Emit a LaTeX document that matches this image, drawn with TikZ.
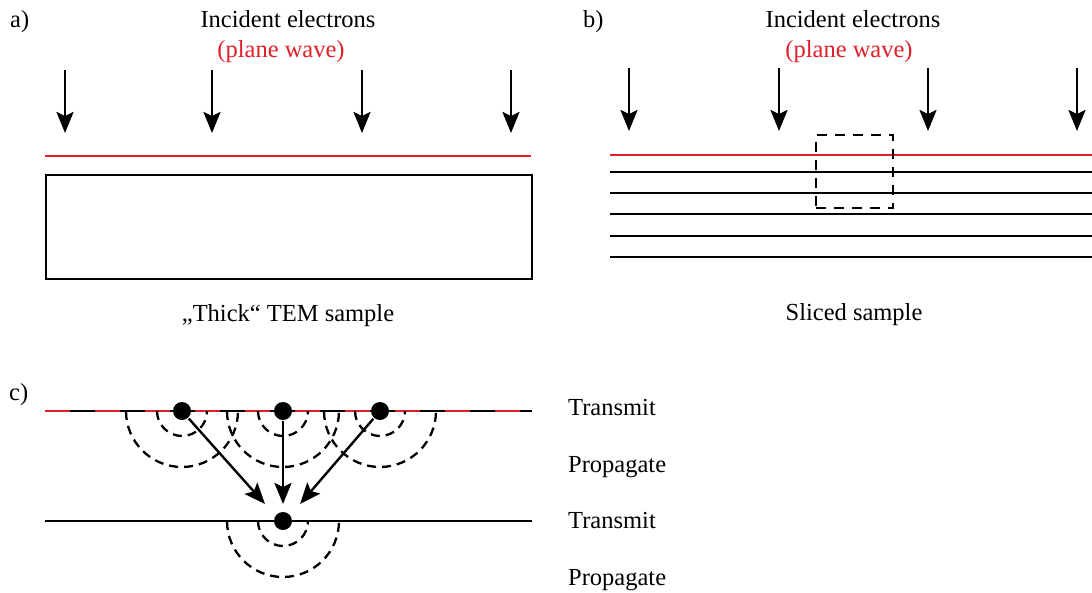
\documentclass[tikz,border=0pt]{standalone}
\usepackage{fontspec}
\setmainfont{Liberation Serif}
\usetikzlibrary{arrows.meta}
\definecolor{wavered}{RGB}{222,32,42}
\begin{document}
\begin{tikzpicture}[x=1pt,y=-1pt,line width=2.4pt,
  lbl/.style={font=\fontsize{24.5}{28}\selectfont, inner sep=0pt, anchor=base},
  tag/.style={lbl, anchor=base west},
  beam/.style={-{Stealth[length=21pt,width=17pt,inset=4pt]}},
  flow/.style={-{Stealth[length=21pt,width=17pt,inset=4pt]}},
  wave/.style={draw=wavered},
  layer/.style={draw=black},
  wavelet/.style={line width=2.3pt, dash pattern=on 9pt off 6pt},
  dot/.style={circle, fill=black, inner sep=0pt, minimum size=18pt}]
\useasboundingbox (0,0) rectangle (1092,592);

% ---------- a) thick sample ----------
\node[tag] (la) at (9,27) {a)};
\node[lbl] (inca) at (288,27) {Incident electrons};
\node[lbl, text=wavered] (pwa) at (281,57) {(plane wave)};
\foreach \x [count=\i] in {65,212,362,511}{
  \coordinate (ata\i) at (\x,70);
  \coordinate (aha\i) at (\x,133);
  \draw[beam] (ata\i) -- (aha\i);
}
\coordinate (wal) at (45,156);
\coordinate (war) at (531,156);
\draw[wave] (wal) -- (war);
\node[draw, minimum width=486pt, minimum height=104pt, inner sep=0pt,
      anchor=north west] (thick) at (45,174) {};
\node[lbl] (capa) at (288,321) {„Thick“ TEM sample};

% ---------- b) sliced sample ----------
\node[tag] (lb) at (582,27) {b)};
\node[lbl] (incb) at (853,27) {Incident electrons};
\node[lbl, text=wavered] (pwb) at (849,57) {(plane wave)};
\foreach \x [count=\i] in {629,779,928,1077}{
  \coordinate (atb\i) at (\x,68);
  \coordinate (ahb\i) at (\x,131);
  \draw[beam] (atb\i) -- (ahb\i);
}
\coordinate (wbl) at (610,155);
\coordinate (wbr) at (1092,155);
\draw[wave] (wbl) -- (wbr);
\foreach \y [count=\i] in {172,193,214,236,257}{
  \coordinate (sl\i) at (610,\y);
  \coordinate (sr\i) at (1092,\y);
  \draw[layer] (sl\i) -- (sr\i);
}
\node[draw, dash pattern=on 10pt off 8pt, minimum width=77pt, minimum height=73pt,
      inner sep=0pt, anchor=north west] (slicebox) at (815,134) {};
\node[lbl] (capb) at (854,320) {Sliced sample};

% ---------- c) multislice scheme ----------
\node[tag] (lc) at (8,400) {c)};
\coordinate (t1l) at (45,411);
\coordinate (t1r) at (532,411);
\coordinate (t2l) at (45,521);
\coordinate (t2r) at (532,521);
\draw[layer] (t1l) -- (t1r);
\draw[wave, dash pattern=on 25pt off 25pt] (t1l) -- (t1r);
\draw[layer] (t2l) -- (t2r);

% spherical wavelets below each point source
\foreach \cx/\cy in {182/411,283/411,380/411,283/521}{
  \draw[wavelet] (\cx-25,\cy) arc[start angle=180, end angle=360, radius=25pt];
  \draw[wavelet] (\cx-56,\cy) arc[start angle=180, end angle=360, radius=56pt];
}

\node[dot] (s1) at (182,411) {};
\node[dot] (s2) at (283,411) {};
\node[dot] (s3) at (380,411) {};
\node[dot] (s4) at (283,521) {};
\coordinate (e1) at (265,504);
\coordinate (e2) at (283,504);
\coordinate (e3) at (300,504);
\draw[flow] (s1) -- (e1);
\draw[flow] (s2) -- (e2);
\draw[flow] (s3) -- (e3);

\node[tag] (tr1) at (567,415) {Transmit};
\node[tag] (pr1) at (567,472) {Propagate};
\node[tag] (tr2) at (567,528) {Transmit};
\node[tag] (pr2) at (567,585) {Propagate};
\end{tikzpicture}
\end{document}
